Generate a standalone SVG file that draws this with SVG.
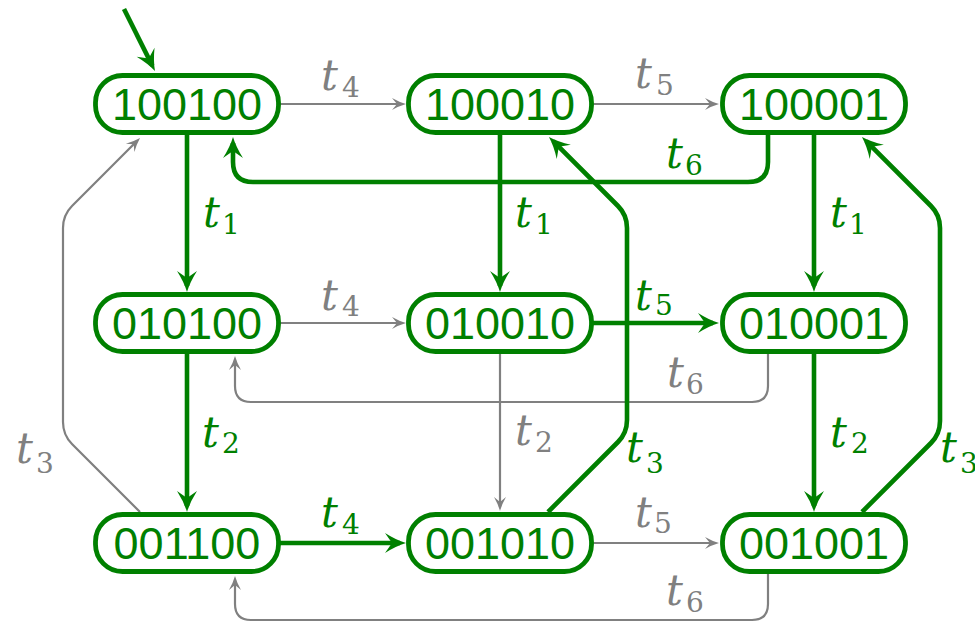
<svg xmlns="http://www.w3.org/2000/svg" width="975" height="622" viewBox="0 0 975 622">
  <defs>
    <style>
      .node rect { fill: #ffffff; stroke: #008000; stroke-width: 4.8; }
      .node text { font-family: "Liberation Sans", Arial, sans-serif; font-size: 45px; fill: #008000; text-anchor: middle; }
      .on { fill: none; stroke: #008000; stroke-width: 4.6; marker-end: url(#headOn); }
      .off { fill: none; stroke: #808080; stroke-width: 2.2; marker-end: url(#headOff); }
      .lon { fill: #008000; }
      .loff { fill: #808080; }
    </style>
    <!-- arrowheads: the tip sits 6 (resp. 4) units past the path end -->
    <marker id="headOn" markerUnits="userSpaceOnUse" viewBox="-16 -11 24 22" markerWidth="24" markerHeight="22" refX="0" refY="0" orient="auto" overflow="visible">
      <path d="M6,0 Q-4,-3 -15,-10 L-8,0 L-15,10 Q-4,3 6,0 Z" fill="#008000"/>
    </marker>
    <marker id="headOff" markerUnits="userSpaceOnUse" viewBox="-12 -7 18 14" markerWidth="18" markerHeight="14" refX="0" refY="0" orient="auto" overflow="visible">
      <path d="M4,0 Q-3,-2 -10,-6 L-5,0 L-10,6 Q-3,2 4,0 Z" fill="#808080"/>
    </marker>
  </defs>
  <rect width="975" height="622" fill="#ffffff"/>

  <g id="connectors">
    <!-- initial marking -->
    <path class="on" d="M124,9 L152.3,65.6"/>

    <g font-family="DejaVu Serif, serif">
    <!-- row 1 -->
    <path class="off" d="M279,104 H402"/>
    <text class="loff"><tspan font-style="italic" font-size="42" x="321" y="90">t</tspan><tspan font-size="28" x="342" y="97">4</tspan></text>
    <path class="off" d="M592,104 H715"/>
    <text class="loff"><tspan font-style="italic" font-size="42" x="635" y="88">t</tspan><tspan font-size="28" x="656" y="95">5</tspan></text>
    <path class="on" d="M768,133 V162 Q768,182 748,182 H253 Q233,182 233,162 V143"/>
    <text class="lon"><tspan font-style="italic" font-size="42" x="666" y="168">t</tspan><tspan font-size="28" x="685" y="175">6</tspan></text>

    <!-- row 1 to row 2 -->
    <path class="on" d="M187,133 V286"/>
    <text class="lon"><tspan font-style="italic" font-size="42" x="203" y="227">t</tspan><tspan font-size="28" x="222" y="234">1</tspan></text>
    <path class="on" d="M500,133 V286"/>
    <text class="lon"><tspan font-style="italic" font-size="42" x="515" y="227">t</tspan><tspan font-size="28" x="535" y="234">1</tspan></text>
    <path class="on" d="M814,133 V286"/>
    <text class="lon"><tspan font-style="italic" font-size="42" x="830" y="227">t</tspan><tspan font-size="28" x="849" y="234">1</tspan></text>

    <!-- row 2 -->
    <path class="off" d="M279,323 H402"/>
    <text class="loff"><tspan font-style="italic" font-size="42" x="321" y="310">t</tspan><tspan font-size="28" x="342" y="316">4</tspan></text>
    <path class="on" d="M592,323 H713"/>
    <text class="lon"><tspan font-style="italic" font-size="42" x="635" y="310">t</tspan><tspan font-size="28" x="655" y="315">5</tspan></text>
    <path class="off" d="M768,352 V386 Q768,402 752,402 H251 Q235,402 235,386 V360"/>
    <text class="loff"><tspan font-style="italic" font-size="42" x="667" y="387">t</tspan><tspan font-size="28" x="686" y="394">6</tspan></text>

    <!-- row 2 to row 3 -->
    <path class="on" d="M187,352 V506"/>
    <text class="lon"><tspan font-style="italic" font-size="42" x="202" y="447">t</tspan><tspan font-size="28" x="222" y="453">2</tspan></text>
    <path class="off" d="M500,352 V507"/>
    <text class="loff"><tspan font-style="italic" font-size="42" x="515" y="445">t</tspan><tspan font-size="28" x="535" y="452">2</tspan></text>
    <path class="on" d="M814,352 V506"/>
    <text class="lon"><tspan font-style="italic" font-size="42" x="830" y="447">t</tspan><tspan font-size="28" x="851" y="453">2</tspan></text>

    <!-- row 3 back to row 1 -->
    <path class="off" d="M140,512 L72,444 Q63,435 63,422 V228 Q63,215 72,206 L137.2,140.8"/>
    <text class="loff"><tspan font-style="italic" font-size="42" x="16" y="463">t</tspan><tspan font-size="28" x="36" y="473">3</tspan></text>
    <path class="on" d="M548,512 L618,442 Q627,433 627,420 V228 Q627,215 618,206 L553.2,141.2"/>
    <text class="lon"><tspan font-style="italic" font-size="42" x="626" y="462">t</tspan><tspan font-size="28" x="646" y="473">3</tspan></text>
    <path class="on" d="M862,512 L931,443 Q940,434 940,421 V228 Q940,215 931,206 L866.2,141.2"/>
    <text class="lon"><tspan font-style="italic" font-size="42" x="940" y="462">t</tspan><tspan font-size="28" x="960" y="473">3</tspan></text>

    <!-- row 3 -->
    <path class="on" d="M279,543 H400"/>
    <text class="lon"><tspan font-style="italic" font-size="42" x="321" y="527">t</tspan><tspan font-size="28" x="342" y="534">4</tspan></text>
    <path class="off" d="M592,543 H715"/>
    <text class="loff"><tspan font-style="italic" font-size="42" x="635" y="527">t</tspan><tspan font-size="28" x="654" y="533">5</tspan></text>
    <path class="off" d="M768,572 V604 Q768,620 752,620 H251 Q235,620 235,604 V580"/>
    <text class="loff"><tspan font-style="italic" font-size="42" x="666" y="605">t</tspan><tspan font-size="28" x="686" y="612">6</tspan></text>
    </g>
  </g>

  <g id="nodes">
    <g id="n100100" class="node"><rect x="95.5" y="75.5" width="183" height="57" rx="27"/><text x="187" y="120">100100</text></g>
    <g id="n100010" class="node"><rect x="408.5" y="75.5" width="183" height="57" rx="27"/><text x="500" y="120">100010</text></g>
    <g id="n100001" class="node"><rect x="722.5" y="75.5" width="183" height="57" rx="27"/><text x="814" y="120">100001</text></g>
    <g id="n010100" class="node"><rect x="95.5" y="294.5" width="183" height="57" rx="27"/><text x="187" y="339">010100</text></g>
    <g id="n010010" class="node"><rect x="408.5" y="294.5" width="183" height="57" rx="27"/><text x="500" y="339">010010</text></g>
    <g id="n010001" class="node"><rect x="722.5" y="294.5" width="183" height="57" rx="27"/><text x="814" y="339">010001</text></g>
    <g id="n001100" class="node"><rect x="95.5" y="514.5" width="183" height="57" rx="27"/><text x="187" y="559">001100</text></g>
    <g id="n001010" class="node"><rect x="408.5" y="514.5" width="183" height="57" rx="27"/><text x="500" y="559">001010</text></g>
    <g id="n001001" class="node"><rect x="722.5" y="514.5" width="183" height="57" rx="27"/><text x="814" y="559">001001</text></g>
  </g>
</svg>
